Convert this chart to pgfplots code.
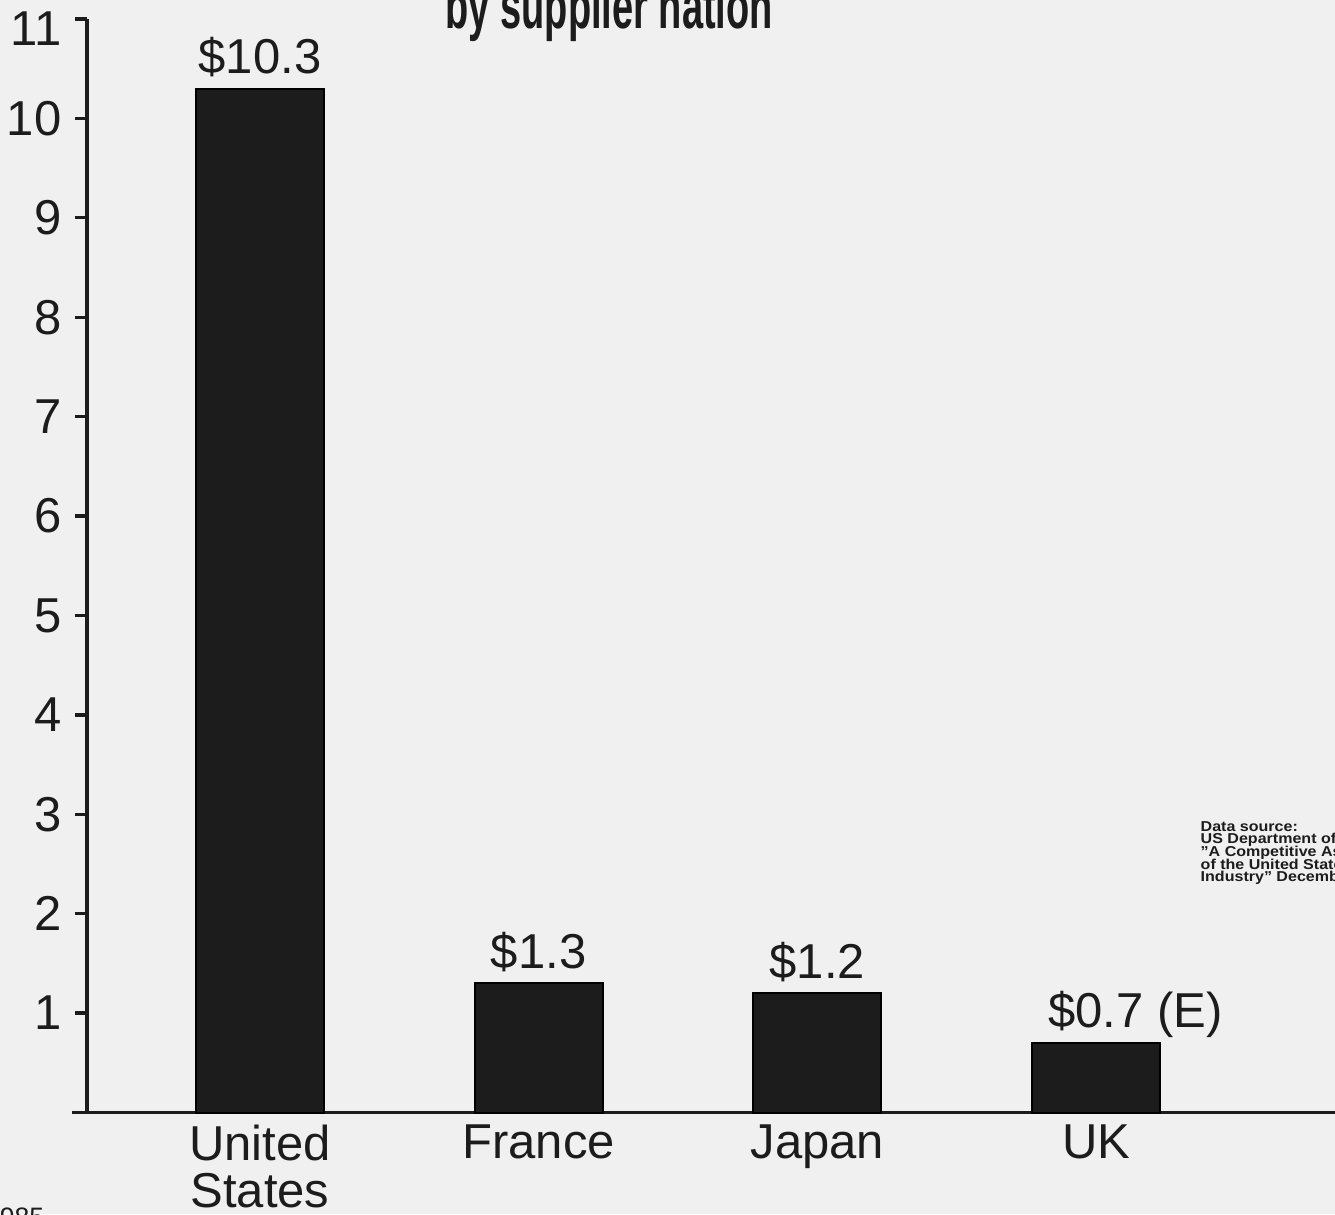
\documentclass[border=0pt]{standalone}
\usepackage{pgfplots}
\pgfplotsset{compat=1.18}
\usepackage{fontspec}
\setmainfont{Liberation Sans}
\definecolor{paper}{RGB}{240,240,240}
\definecolor{ink}{RGB}{28,28,28}
\begin{document}
\begin{tikzpicture}
\useasboundingbox (0pt,0pt) rectangle (400.5pt,-364.2pt);
\clip (0pt,0pt) rectangle (400.5pt,-364.2pt);
\fill[paper] (0pt,0pt) rectangle (400.5pt,-364.2pt);
\begin{axis}[
  at={(26.1pt,-333.75pt)}, anchor=south west,
  scale only axis, width=377.4pt, height=328.05pt,
  xmin=-0.6208, xmax=3.8935, ymin=0, ymax=11,
  axis x line=bottom, axis y line=left,
  axis line style={-, line width=1.1pt, ink},
  ytick={1,2,3,4,5,6,7,8,9,10},
  extra y ticks={11},
  extra y tick style={yticklabel style={yshift=-3pt}},
  xtick={0,1,2,3},
  xticklabels={{United\\States},France,Japan,UK},
  xtick style={draw=none},
  ytick style={line width=1pt, ink},
  tick align=outside, major tick length=3.6pt,
  /pgf/number format/assume math mode=true,
  yticklabel style={anchor=east, inner sep=0pt, xshift=-3.9pt, font=\fontsize{14.7pt}{16pt}\selectfont, text=ink},
  xticklabel style={anchor=north, align=center, inner sep=0pt, yshift=0pt, font=\fontsize{14.7pt}{14.1pt}\selectfont, text=ink},
  ybar, bar width=38.4pt,
  point meta=explicit symbolic,
  nodes near coords,
  nodes near coords style={anchor=base, inner sep=0pt, yshift=4.5pt, font=\fontsize{14.7pt}{16pt}\selectfont, text=ink},
  clip=false,
]
\addplot[fill=ink, draw=black, line width=0.6pt] coordinates {
  (0,10.3) [\$10.3]
  (1,1.3) [\$1.3]
  (2,1.2) [\$1.2]
  (3,0.7) [\$0.7\rlap{ (E)}]
};
\end{axis}
\draw[ink, line width=1.1pt] (21.6pt,-333.75pt) -- (26.2pt,-333.75pt);
\node[anchor=base west, inner sep=0pt, text=ink, font=\fontsize{19pt}{19pt}\selectfont\bfseries] at (133.5pt,-8.4pt) {\scalebox{0.6}[1]{by supplier nation}};
\begin{scope}[every node/.style={anchor=base west, inner sep=0pt, text=ink, font=\fontsize{4.3pt}{4pt}\selectfont\bfseries}]
\node at (360pt,-249.3pt) {\scalebox{1.12}[1]{Data source:}};
\node at (360pt,-253.05pt) {\scalebox{1.12}[1]{US Department of Commerce,}};
\node at (360pt,-256.95pt) {\scalebox{1.12}[1]{"A Competitive Assessment}};
\node at (360pt,-260.7pt) {\scalebox{1.12}[1]{of the United States Helicopter}};
\node at (360pt,-264.45pt) {\scalebox{1.12}[1]{Industry" December 1986}};
\end{scope}
\node[anchor=north east, inner sep=0pt, text=ink, font=\fontsize{8pt}{8pt}\selectfont] at (13.5pt,-362.1pt) {1985};
\end{tikzpicture}
\end{document}
